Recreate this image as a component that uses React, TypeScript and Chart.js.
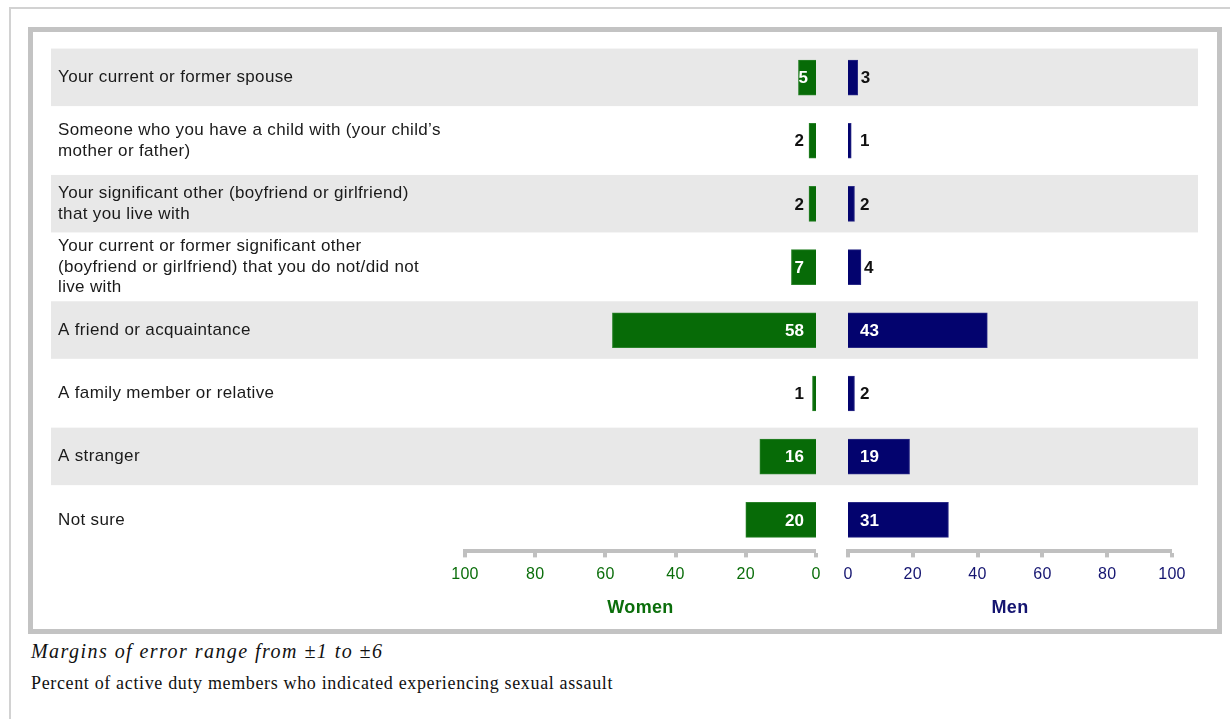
import React, { useEffect, useRef } from "react";
import { Chart, registerables } from "chart.js";

Chart.register(...registerables);

// ---------- data ----------
const categories: (string | string[])[] = [
  "Your current or former spouse",
  ["Someone who you have a child with (your child’s", "mother or father)"],
  ["Your significant other (boyfriend or girlfriend)", "that you live with"],
  ["Your current or former significant other", "(boyfriend or girlfriend) that you do not/did not", "live with"],
  "A friend or acquaintance",
  "A family member or relative",
  "A stranger",
  "Not sure",
];
const womenValues = [5, 2, 2, 7, 58, 1, 16, 20];
const menValues = [3, 1, 2, 4, 43, 2, 19, 31];
const axisTicks = [0, 20, 40, 60, 80, 100];
const womenTitle = "Women";
const menTitle = "Men";
const footerNote = "Margins of error range from ±1 to ±6";
const footerCaption = "Percent of active duty members who indicated experiencing sexual assault";

// ---------- styles ----------
const SANS = '"Liberation Sans", Arial, sans-serif';
const GREEN = "#076b07";
const GREEN_TEXT = "#0b6e0b";
const NAVY = "#03036e";
const NAVY_TEXT = "#141470";
const AXIS_GRAY = "#c0c0c0";
const BAND = "#e8e8e8";

const CANVAS_TOP = 30;
const CANVAS_H = 595;

const bandPlugin = {
  id: "bands",
  beforeDraw(chart: any) {
    const y = chart.scales.y;
    const ctx = chart.ctx;
    ctx.save();
    ctx.fillStyle = BAND;
    for (let i = 0; i < categories.length; i += 2) {
      const c = y.getPixelForValue(i);
      ctx.fillRect(0, c - 29, chart.width, 57.5);
    }
    ctx.restore();
    // slightly wider text rendering, like the original
    (ctx as any).letterSpacing = "0.35px";
  },
};

function makeLabelPlugin(side: "left" | "right") {
  return {
    id: "valueLabels",
    afterDatasetsDraw(chart: any) {
      const ctx = chart.ctx;
      const meta = chart.getDatasetMeta(0);
      const data = chart.data.datasets[0].data as number[];
      ctx.save();
      (ctx as any).letterSpacing = "0px";
      ctx.font = `bold 17px ${SANS}`;
      ctx.textBaseline = "middle";
      meta.data.forEach((el: any, i: number) => {
        const { x, y, base } = el.getProps(["x", "y", "base"], true);
        const text = String(data[i]);
        const tw = ctx.measureText(text).width;
        const len = Math.abs(x - base);
        const inside = len > 15;
        ctx.fillStyle = inside ? "#ffffff" : "#111111";
        if (side === "left") {
          ctx.textAlign = "right";
          const tx = inside ? Math.max(base - 12, x + tw) : Math.min(base - 12, x - 3);
          ctx.fillText(text, tx, y + 1);
        } else {
          ctx.textAlign = "left";
          const tx = inside ? Math.min(base + 12, x - tw) : Math.max(base + 12, x + 3);
          ctx.fillText(text, tx, y + 1);
        }
      });
      ctx.restore();
    },
  };
}

function xScale(reverse: boolean, color: string, title: string) {
  return {
    type: "linear",
    position: "bottom",
    reverse,
    min: 0,
    max: 100,
    afterBuildTicks: (s: any) => {
      s.ticks = axisTicks.map((v) => ({ value: v }));
    },
    afterFit: (s: any) => {
      s.height = 73.6;
    },
    ticks: {
      color,
      font: { family: SANS, size: 16 },
      padding: 8,
      maxRotation: 0,
    },
    grid: {
      drawOnChartArea: false,
      drawTicks: true,
      tickLength: 6,
      color: AXIS_GRAY,
      tickColor: AXIS_GRAY,
      lineWidth: 0,
      tickWidth: 4,
    },
    border: { display: true, width: 4, color: AXIS_GRAY },
    title: {
      display: true,
      text: title,
      color,
      font: { family: SANS, size: 18, weight: "bold" },
      padding: { top: 0, bottom: 6 },
    },
  };
}

function WomenChart() {
  const ref = useRef<HTMLCanvasElement | null>(null);
  useEffect(() => {
    if (!ref.current) return;
    const chart = new Chart(ref.current, {
      type: "bar",
      data: {
        labels: categories as any,
        datasets: [
          {
            data: womenValues,
            backgroundColor: GREEN,
            borderColor: "#2a822a",
            borderWidth: 1,
            barThickness: 35,
          },
        ],
      },
      options: {
        indexAxis: "y",
        responsive: false,
        animation: false,
        layout: { padding: { left: 7, right: 14, top: 16, bottom: 0 } },
        plugins: { legend: { display: false }, tooltip: { enabled: false } },
        scales: {
          x: xScale(true, GREEN_TEXT, womenTitle) as any,
          y: {
            type: "category",
            ticks: {
              crossAlign: "far",
              color: "#1a1a1a",
              font: { family: SANS, size: 17 },
              autoSkip: false,
            },
            grid: { display: false },
            border: { display: false },
            afterFit: (s: any) => {
              s.width = 407;
            },
          } as any,
        },
      },
      plugins: [bandPlugin, makeLabelPlugin("left")],
    } as any);
    return () => chart.destroy();
  }, []);
  return (
    <canvas
      ref={ref}
      width={779}
      height={CANVAS_H}
      style={{ position: "absolute", left: 51, top: CANVAS_TOP, width: 779, height: CANVAS_H, display: "block" }}
    />
  );
}

function MenChart() {
  const ref = useRef<HTMLCanvasElement | null>(null);
  useEffect(() => {
    if (!ref.current) return;
    const chart = new Chart(ref.current, {
      type: "bar",
      data: {
        labels: categories as any,
        datasets: [
          {
            data: menValues,
            backgroundColor: NAVY,
            borderColor: "#2a2a86",
            borderWidth: 1,
            barThickness: 35,
          },
        ],
      },
      options: {
        indexAxis: "y",
        responsive: false,
        animation: false,
        layout: { padding: { left: 18, right: 26, top: 16, bottom: 0 } },
        plugins: { legend: { display: false }, tooltip: { enabled: false } },
        scales: {
          x: xScale(false, NAVY_TEXT, menTitle) as any,
          y: {
            type: "category",
            display: false,
            grid: { display: false },
          } as any,
        },
      },
      plugins: [bandPlugin, makeLabelPlugin("right")],
    } as any);
    return () => chart.destroy();
  }, []);
  return (
    <canvas
      ref={ref}
      width={368}
      height={CANVAS_H}
      style={{ position: "absolute", left: 830, top: CANVAS_TOP, width: 368, height: CANVAS_H, display: "block" }}
    />
  );
}

export default function App() {
  return (
    <div
      style={{
        position: "absolute",
        left: 0,
        top: 0,
        width: 1230,
        height: 719,
        background: "#ffffff",
        overflow: "hidden",
      }}
    >
      <div style={{ position: "absolute", left: 9, top: 7, width: 1230, height: 2, background: "#d2d2d2" }} />
      <div style={{ position: "absolute", left: 9, top: 7, width: 2, height: 719, background: "#d2d2d2" }} />
      <div
        style={{
          position: "absolute",
          left: 28,
          top: 27,
          width: 1194,
          height: 607,
          border: "5px solid #c3c3c3",
          boxSizing: "border-box",
        }}
      />
      <WomenChart />
      <MenChart />
      <div
        style={{
          position: "absolute",
          left: 31,
          top: 641,
          fontFamily: '"Liberation Serif", "Times New Roman", serif',
          fontStyle: "italic",
          fontSize: 20,
          lineHeight: "20px",
          letterSpacing: "1.45px",
          color: "#111",
          whiteSpace: "nowrap",
        }}
      >
        {footerNote}
      </div>
      <div
        style={{
          position: "absolute",
          left: 31,
          top: 674,
          fontFamily: '"Liberation Serif", "Times New Roman", serif',
          fontSize: 18,
          lineHeight: "18px",
          letterSpacing: "0.65px",
          color: "#111",
          whiteSpace: "nowrap",
        }}
      >
        {footerCaption}
      </div>
    </div>
  );
}
